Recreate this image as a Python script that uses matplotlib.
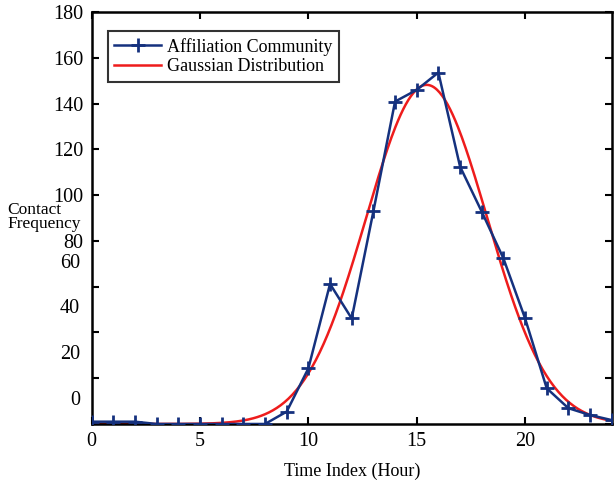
import numpy as np
import matplotlib
matplotlib.use('Agg')
import matplotlib.pyplot as plt

plt.rcParams['font.family'] = ['Liberation Serif', 'DejaVu Serif']

# hourly contact counts
hours = list(range(0, 25))
contacts = [1, 1, 1, 0, 0, 0, 0, 0, 0, 5.4, 24.3, 61.2, 46.1, 92.9, 140.9, 146.0,
            153.6, 112.5, 92.8, 72.4, 46.2, 15.6, 6.9, 3.9, 1.7]

# fitted gaussian (peak, centre, width) as drawn in the reference
gauss_peak = 148.2
gauss_mean = 15.46
gauss_sigma = 2.8

x_ticks = [0, 5, 10, 15, 20]
y_ticks = [0, 20, 40, 60, 80, 100, 120, 140, 160, 180]
# the source figure prints the lower labels out of line with their ticks
y_upper_labels = ['', '', '', '', '80', '100', '120', '140', '160', '180']
y_lower_labels = ['0', '20', '40', '60']
ylabel_shift = 11.4

blue = '#15317e'
red = '#ee1c1c'

fig = plt.figure(figsize=(6.14, 4.84), dpi=100)
ax = fig.add_axes([0.1493, 0.124, 0.9963 - 0.1493, 0.975 - 0.124])

xs = np.linspace(0, 24, 400)
gauss = gauss_peak * np.exp(-(xs - gauss_mean) ** 2 / (2 * gauss_sigma ** 2))

ax.plot(hours, contacts, color=blue, lw=1.8, marker='+', ms=10, mew=2,
        label='Affiliation Community', zorder=3)
ax.plot(xs, gauss, color=red, lw=1.8, label='Gaussian Distribution', zorder=2)

ax.set_xlim(0, 24)
ax.set_ylim(0, 180)

ax.set_xticks(x_ticks)
ax.set_xticklabels([str(t) for t in x_ticks])
ax.set_yticks(y_ticks)
ax.set_yticklabels(y_upper_labels)
ax.set_yticks([int(l) + ylabel_shift for l in y_lower_labels], minor=True)
ax.set_yticklabels(y_lower_labels, minor=True)

ax.tick_params(which='major', direction='in', length=5, width=1.5,
               top=True, right=True, labelsize=14.5, pad=6)
ax.tick_params(axis='y', which='minor', length=0, labelsize=14.5, pad=8.5)
ax.tick_params(axis='x', which='minor', bottom=False, top=False)

for sp in ax.spines.values():
    sp.set_linewidth(1.8)

ax.set_xlabel('Time Index (Hour)', fontsize=13, labelpad=8)
fig.text(0.012, 0.552, 'Contact\nFrequency', fontsize=12.5, ha='left', va='center',
         linespacing=0.85)

leg = ax.legend(loc='upper left', bbox_to_anchor=(0.031, 0.953), fontsize=13,
                frameon=True, fancybox=False, borderpad=0.35, labelspacing=0.15,
                handlelength=2.6, handletextpad=0.35, borderaxespad=0)
leg.get_frame().set_edgecolor('black')
leg.get_frame().set_linewidth(1.5)

fig.savefig('out.png', dpi=100)
